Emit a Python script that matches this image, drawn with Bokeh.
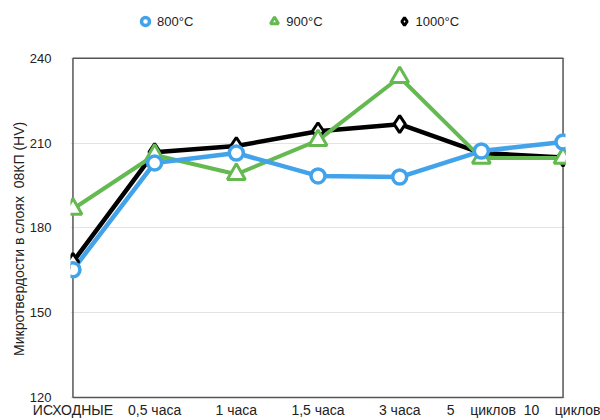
from bokeh.plotting import figure
from bokeh.models import Range1d, FixedTicker, Legend, LegendItem
from bokeh.embed import file_html
from bokeh.resources import INLINE

NB = "\u00a0"
categories = ["ИСХОДНЫЕ", "0,5 часа", "1 часа", "1,5 часа", "3 часа",
              "5" + NB * 3 + " циклов", "10" + NB * 3 + " циклов"]
s800 = [165.2, 203.0, 206.5, 198.4, 198.0, 207.2, 210.4]
s900 = [186.7, 205.8, 199.0, 211.0, 233.3, 204.7, 204.7]
s1000 = [168.0, 206.8, 209.0, 214.2, 216.7, 206.5, 204.9]
y_ticks = [120, 150, 180, 210, 240]
series_names = ["800°C", "900°C", "1000°C"]
y_title = "Микротвердости в слоях " + NB + "08КП (HV)"

FONT = "Liberation Sans"
x = list(range(len(categories)))
y_min, y_max = y_ticks[0], y_ticks[-1]
# frame extends above the value box to leave room for the legend (58 px of 340 px per 120 units)
units_per_px = (y_max - y_min) / 340
top_extra = units_per_px * 58
bottom_extra = units_per_px * 2
x_pad = 0.03

p = figure(width=600, height=420, output_backend="svg", toolbar_location=None,
           x_range=Range1d(-x_pad, len(categories) - 1 + x_pad),
           y_range=Range1d(y_min - bottom_extra, y_max + top_extra),
           min_border_left=70, min_border_right=35, min_border_top=0, min_border_bottom=20)
p.outline_line_color = None
p.background_fill_color = "white"
p.border_fill_color = "white"

p.xgrid.grid_line_color = None
p.ygrid.grid_line_color = "#e3e3e3"
p.ygrid.grid_line_width = 1

# plot box drawn under the series
p.quad(left=[x[0]], right=[x[-1]], bottom=[y_min], top=[y_max],
       fill_color=None, line_color="#555555", line_width=1.5)

p.xaxis.ticker = FixedTicker(ticks=x)
p.xaxis.major_label_overrides = {i: c for i, c in enumerate(categories)}
p.yaxis.ticker = FixedTicker(ticks=y_ticks)
for ax in (p.xaxis, p.yaxis):
    ax.major_tick_line_color = None
    ax.minor_tick_line_color = None
    ax.axis_line_color = None
    ax.major_label_text_font = FONT
    ax.major_label_text_color = "#222222"
p.xaxis.major_tick_out = 0
p.xaxis.major_tick_in = 0
p.xaxis.minor_tick_out = 0
p.xaxis.minor_tick_in = 0
p.xaxis.major_label_text_font_size = "14px"
p.yaxis.major_label_text_font_size = "13px"
p.xaxis.major_label_standoff = 2
p.yaxis.major_label_standoff = 13
p.yaxis.axis_label = y_title + NB * 20
p.yaxis.axis_label_text_font = FONT
p.yaxis.axis_label_text_font_size = "14px"
p.yaxis.axis_label_text_font_style = "normal"
p.yaxis.axis_label_text_color = "#222222"
p.yaxis.axis_label_standoff = 0

blue = "#42a3ea"
green = "#64b950"
black = "#000000"

l1000 = p.line(x, s1000, line_color=black, line_width=4.5)
l900 = p.line(x, s900, line_color=green, line_width=4)
l800 = p.line(x, s800, line_color=blue, line_width=4.5)
m1000 = p.scatter(x, s1000, marker="diamond", size=17, fill_color="white", line_color=black, line_width=3)
m900 = p.scatter(x, s900, marker="triangle", size=18, fill_color="white", line_color=green, line_width=3)
m800 = p.scatter(x, s800, marker="circle", size=14, fill_color="white", line_color=blue, line_width=3.5)

legend = Legend(items=[LegendItem(label=series_names[0], renderers=[m800]),
                       LegendItem(label=series_names[1], renderers=[m900]),
                       LegendItem(label=series_names[2], renderers=[m1000])],
                orientation="horizontal", location=(65, 368),
                spacing=71, glyph_width=20, glyph_height=20, label_standoff=2,
                border_line_color=None, background_fill_alpha=0,
                label_text_font=FONT, label_text_font_size="13px", label_text_color="#222222",
                padding=0, margin=0)
p.add_layout(legend, "center")

open("out.html", "w").write(file_html(p, INLINE))
